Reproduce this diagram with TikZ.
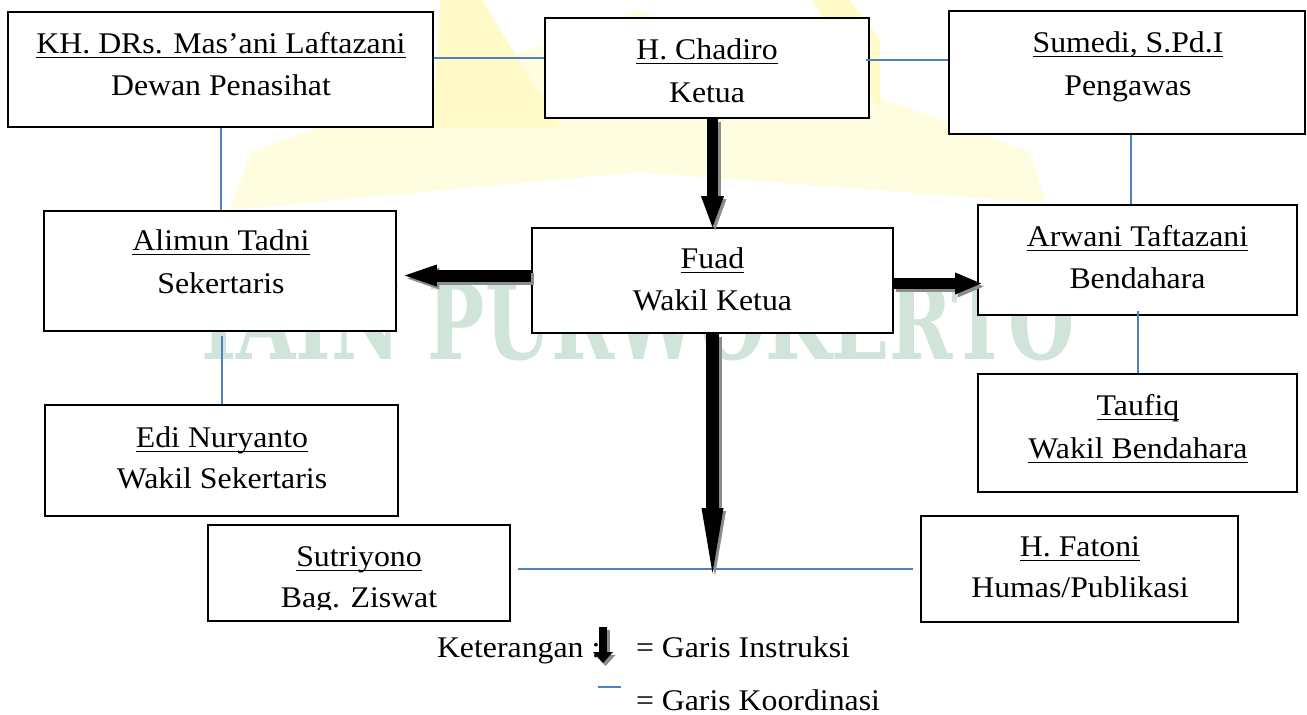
\documentclass[tikz,border=0pt]{standalone}
\usepackage{fontspec}
\setmainfont{Liberation Serif}[FakeStretch=1.06]
\newfontfamily\wmfont{DejaVu Serif}
\usetikzlibrary{arrows.meta,calc}
\definecolor{coordblue}{HTML}{4F81BD}
\definecolor{wmgreen}{HTML}{D0E4DA}
\definecolor{wmyellow}{HTML}{FFFDE0}
\definecolor{wmyellowb}{HTML}{FFFAC8}
\definecolor{shadowgray}{HTML}{8C8C8C}
\newcommand{\myul}[1]{\setbox0\hbox{#1}\rlap{\rule[-5.3pt]{\wd0}{1.8pt}}\box0}
\begin{document}
\begin{tikzpicture}[x=1pt,y=-1pt,
  font=\fontsize{30}{36}\selectfont,
  box/.style={draw=black,line width=1.6pt,fill=white,inner sep=0pt},
  lbl/.style={anchor=base,inner sep=0pt,outer sep=0pt},
  coordline/.style={draw=coordblue,line width=2pt},
  shadowcopy/.style={draw=shadowgray,fill=shadowgray,transform canvas={shift={(2.5pt,-3pt)}}},
  maincopy/.style={draw=black,fill=black}]
\useasboundingbox[fill=white] (0,0) rectangle (1307,715);
% watermark
\fill[wmyellow] (638,10) -- (1030,152) -- (1046,203) -- (638,172) -- (230,210) -- (251,152) -- cycle;
\fill[wmyellowb] (440,0) -- (482,0) -- (560,127) -- (433,127) -- cycle;
\fill[wmyellowb] (812,0) -- (850,0) -- (880,40) -- (880,110) -- cycle;
\node[lbl,anchor=base west,text=wmgreen] (wm) at (201,359)
  {\resizebox{874pt}{77pt}{\wmfont\bfseries IAIN PURWOKERTO}};
% boxes
\node[box,minimum width=425pt,minimum height=115pt] (kh) at (220.5,69.5) {};
\node[box,minimum width=324pt,minimum height=100pt] (chadiro) at (707,68) {};
\node[box,minimum width=356pt,minimum height=123pt] (sumedi) at (1127,72.5) {};
\node[box,minimum width=352pt,minimum height=120pt] (alimun) at (220,271) {};
\node[box,minimum width=361pt,minimum height=105pt] (fuad) at (712.5,280.5) {};
\node[box,minimum width=319pt,minimum height=110pt] (arwani) at (1137.5,260) {};
\node[box,minimum width=353pt,minimum height=111pt] (edi) at (221.5,460.5) {};
\node[box,minimum width=319pt,minimum height=118pt] (taufiq) at (1137.5,433) {};
\node[box,minimum width=302pt,minimum height=96pt] (sutri) at (359,573) {};
\node[box,minimum width=317pt,minimum height=106pt] (fatoni) at (1079.5,569) {};
% texts
\node[lbl] (kh1) at (221,53) {\myul{KH. DRs. Mas’ani Laftazani}};
\node[lbl] (kh2) at (221,95) {Dewan Penasihat};
\node[lbl] (ch1) at (707,59) {\myul{H. Chadiro}};
\node[lbl] (ch2) at (707,102) {Ketua};
\node[lbl] (su1) at (1128,52) {\myul{Sumedi, S.Pd.I}};
\node[lbl] (su2) at (1128,95) {Pengawas};
\node[lbl] (al1) at (221,250) {\myul{Alimun Tadni}};
\node[lbl] (al2) at (221,293) {Sekertaris};
\node[lbl] (fu1) at (712.5,268) {\myul{Fuad}};
\node[lbl] (fu2) at (712.5,310) {Wakil Ketua};
\node[lbl] (ar1) at (1137.5,246) {\myul{Arwani Taftazani}};
\node[lbl] (ar2) at (1137.5,288) {Bendahara};
\node[lbl] (ed1) at (222,447) {\myul{Edi Nuryanto}};
\node[lbl] (ed2) at (222,488) {Wakil Sekertaris};
\node[lbl] (ta1) at (1138,415) {\myul{Taufiq}};
\node[lbl] (ta2) at (1138,458) {\myul{Wakil Bendahara}};
\node[lbl] (fa1) at (1080,556) {\myul{H. Fatoni}};
\node[lbl] (fa2) at (1080,597) {Humas/Publikasi};
\begin{scope}
\clip (209,526) rectangle (509,609);
\node[lbl] (st1) at (359,566) {\myul{Sutriyono}};
\node[lbl] (st2) at (359,607) {Bag. Ziswat};
\end{scope}
% coordination lines
\coordinate (c1) at ($(kh.east)+(0,-11.5)$);
\draw[coordline] (c1) -- (c1 -| chadiro.west);
\coordinate (c2) at ($(chadiro.east)+(-4,-8)$);
\draw[coordline] (c2) -- (c2 -| sumedi.west);
\draw[coordline] (kh.south) -- (kh.south |- alimun.north);
\coordinate (c5) at ($(edi.north |- alimun.south)+(0,4)$);
\draw[coordline] (c5) -- (edi.north);
\coordinate (c3) at ($(sumedi.south)+(4,0)$);
\draw[coordline] (c3) -- (c3 |- arwani.north);
\coordinate (c6) at ($(taufiq.north |- arwani.south)+(0,-5)$);
\draw[coordline] (c6) -- (taufiq.north);
\coordinate (c4) at ($(sutri.east |- fatoni.west)+(7,0)$);
\coordinate (c7) at ($(fatoni.west)+(-7,0)$);
\draw[coordline] (c4) -- (c7);
% instruction arrows
\coordinate (a0) at (chadiro.south -| fuad.north);
\coordinate (b0) at ($(fuad.west)+(0,-5)$);
\coordinate (b1) at ($(b0 -| alimun.east)+(8,0)$);
\coordinate (d0) at ($(fuad.east)+(0,3)$);
\coordinate (d1) at ($(d0 -| arwani.west)+(4,0)$);
\coordinate (j) at ($(fuad.south |- fatoni.west)+(0,4)$);
\foreach \st in {shadowcopy,maincopy}{
  \draw[\st,line width=11pt,-{Triangle[width=23pt,length=31pt,line width=0pt]}] (a0) -- (fuad.north);
  \draw[\st,line width=12pt,-{Triangle[width=22pt,length=32pt,line width=0pt]}] (b0) -- (b1);
  \draw[\st,line width=11pt,-{Triangle[width=22pt,length=26pt,line width=0pt]}] (d0) -- (d1);
  \draw[\st,line width=13pt,-{Triangle[width=22pt,length=65pt,line width=0pt]}] (fuad.south) -- (j);
}
% legend
\node[lbl,anchor=base west] (k1) at (437,657) {Keterangan :};
\node[lbl,anchor=base west] (k2) at (636,657) {= Garis Instruksi};
\node[lbl,anchor=base west] (k3) at (636,710) {= Garis Koordinasi};
\coordinate (la) at (603,627);
\coordinate (lb) at (603,663);
\draw[shadowcopy,line width=8pt,-{Triangle[width=20pt,length=11pt,line width=0pt]}] (la) -- (lb);
\draw[maincopy,line width=8pt,-{Triangle[width=20pt,length=11pt,line width=0pt]}] (la) -- (lb);
\coordinate (lc) at (598,687);
\coordinate (ld) at (621,687);
\draw[coordline] (lc) -- (ld);
\end{tikzpicture}
\end{document}
